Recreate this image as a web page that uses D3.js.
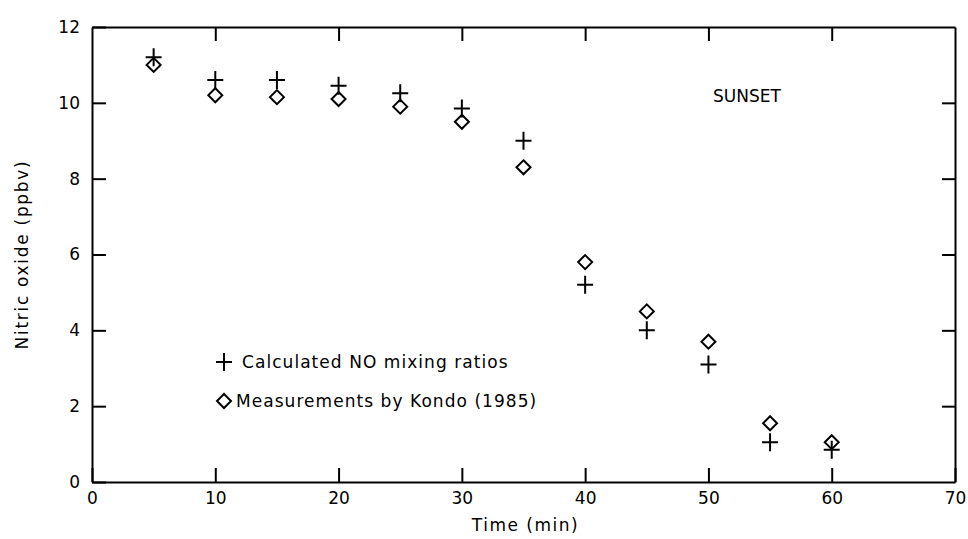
<!DOCTYPE html>
<html>
<head>
<meta charset="utf-8">
<script src="https://d3js.org/d3.v7.min.js"></script>
<style>
body { margin: 0; background: #fff; }
svg text { font-family: "DejaVu Sans", sans-serif; fill: #000; }
.axis path, .axis line { stroke: #000; stroke-width: 2; }
.axis text { font-size: 17px; }
</style>
</head>
<body>
<div id="chart"></div>
<script>
// time after start (min)
const times = [5, 10, 15, 20, 25, 30, 35, 40, 45, 50, 55, 60];
// calculated NO (ppbv), "+" markers
const calcNO = [11.2, 10.6, 10.6, 10.45, 10.25, 9.85, 9.0, 5.2, 4.0, 3.1, 1.05, 0.85];
// Kondo (1985) measurements, diamonds
const kondoNO = [11.0, 10.2, 10.15, 10.1, 9.9, 9.5, 8.3, 5.8, 4.5, 3.7, 1.55, 1.05];
const xTicks = [0, 10, 20, 30, 40, 50, 60, 70];
const yTicks = [0, 2, 4, 6, 8, 10, 12];

const W = 968, H = 539;
const margin = {top: 27, right: 13, bottom: 57, left: 92};

const svg = d3.select("#chart").append("svg")
    .attr("width", W).attr("height", H);

const x = d3.scaleLinear().domain([0, 70]).range([margin.left, W - margin.right]);
const y = d3.scaleLinear().domain([0, 12]).range([H - margin.bottom, margin.top]);

// axes: ticks point inward on all four sides
svg.append("g").attr("class", "axis")
    .attr("transform", `translate(0,${y(0)})`)
    .call(d3.axisBottom(x).tickValues(xTicks).tickSize(-14).tickSizeOuter(0).tickPadding(10));
svg.append("g").attr("class", "axis")
    .attr("transform", `translate(0,${y(12)})`)
    .call(d3.axisTop(x).tickValues(xTicks.slice(1, -1)).tickSize(-14).tickSizeOuter(0).tickFormat(""));
svg.append("g").attr("class", "axis")
    .attr("transform", `translate(${x(0)},0)`)
    .call(d3.axisLeft(y).tickValues(yTicks).tickSize(-14).tickSizeOuter(0).tickPadding(12));
svg.append("g").attr("class", "axis")
    .attr("transform", `translate(${x(70)},0)`)
    .call(d3.axisRight(y).tickValues(yTicks.slice(1, -1)).tickSize(-13).tickSizeOuter(0).tickFormat(""));

// axis titles
svg.append("text")
    .attr("x", (x(0) + x(70)) / 2 + 2).attr("y", 531)
    .attr("text-anchor", "middle").attr("font-size", 17)
    .attr("letter-spacing", 1.5)
    .text("Time (min)");
svg.append("text")
    .attr("transform", `translate(28,${(y(0) + y(12)) / 2}) rotate(-90)`)
    .attr("text-anchor", "middle").attr("font-size", 17)
    .attr("letter-spacing", 1.7)
    .text("Nitric oxide (ppbv)");

svg.append("text")
    .attr("x", 747).attr("y", 102)
    .attr("text-anchor", "middle").attr("font-size", 17)
    .text("SUNSET");

function drawPlus(g, cx, cy) {
    g.append("path")
        .attr("d", `M${cx - 8},${cy}H${cx + 8}M${cx},${cy - 9}V${cy + 9}`)
        .attr("stroke", "#000").attr("stroke-width", 2).attr("fill", "none");
}
function drawDiamond(g, cx, cy) {
    g.append("path")
        .attr("d", `M${cx},${cy - 7}L${cx + 7},${cy}L${cx},${cy + 7}L${cx - 7},${cy}Z`)
        .attr("stroke", "#000").attr("stroke-width", 2).attr("fill", "none");
}

const marks = svg.append("g");
kondoNO.forEach((v, i) => drawDiamond(marks, x(times[i]), y(v)));
calcNO.forEach((v, i) => drawPlus(marks, x(times[i]), y(v)));

// legend
const leg = svg.append("g");
drawPlus(leg, 224, 362);
leg.append("text").attr("x", 242).attr("y", 368).attr("font-size", 17)
    .attr("letter-spacing", 1.05).text("Calculated NO mixing ratios");
drawDiamond(leg, 224, 401);
leg.append("text").attr("x", 236).attr("y", 407).attr("font-size", 17)
    .attr("letter-spacing", 1.05).text("Measurements by Kondo (1985)");
</script>
</body>
</html>
